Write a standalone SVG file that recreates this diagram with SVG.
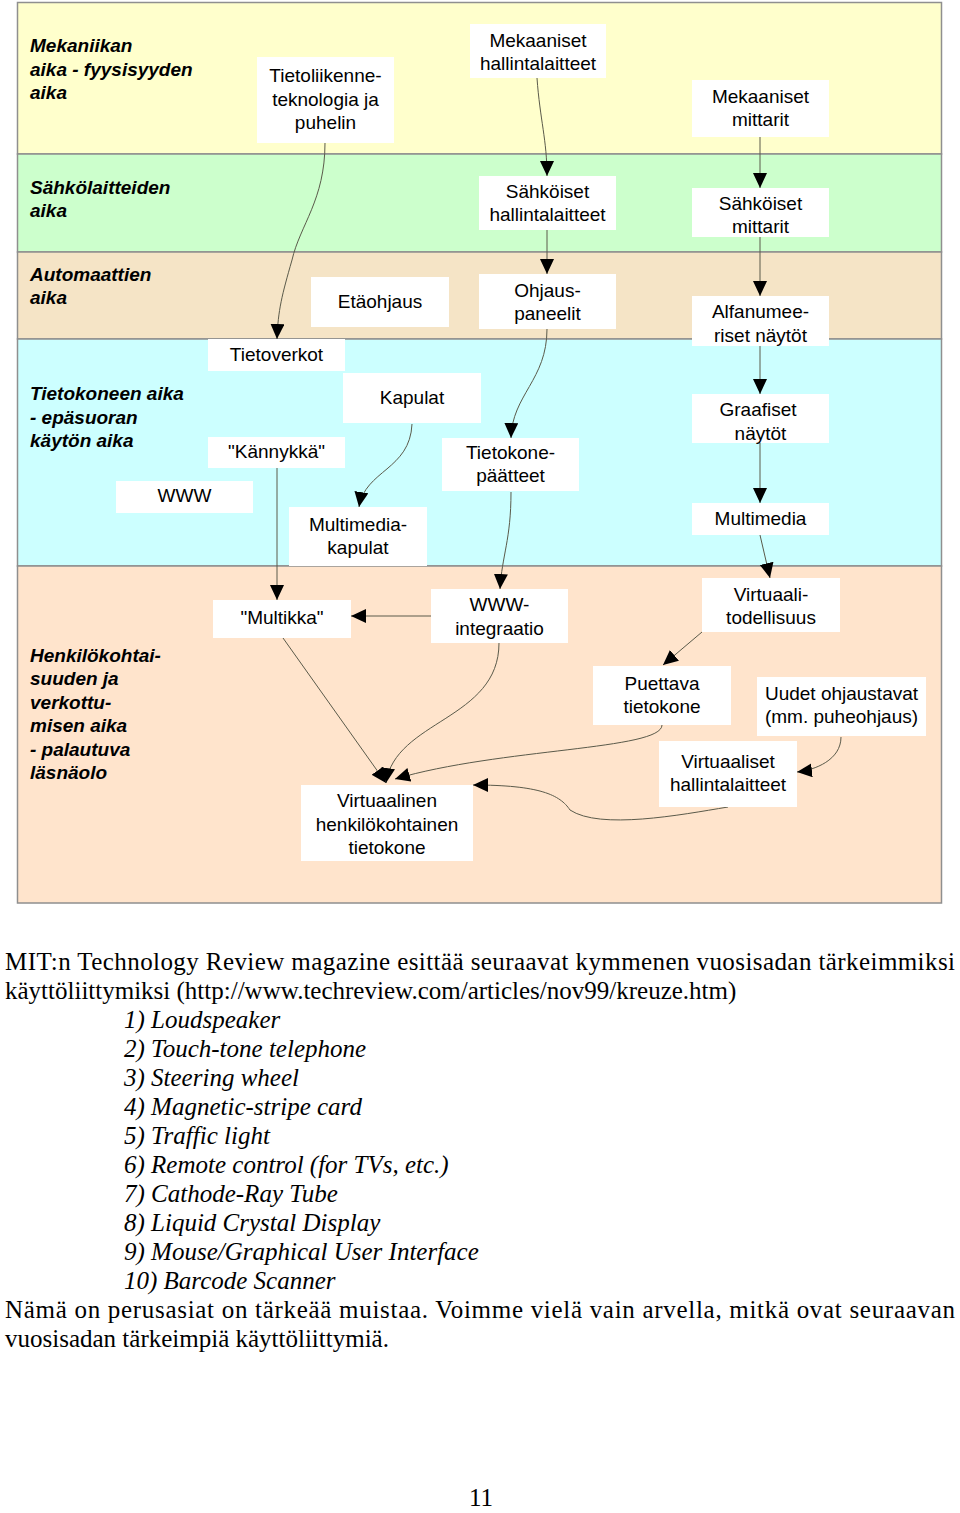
<svg xmlns="http://www.w3.org/2000/svg" width="960" height="1513" viewBox="0 0 960 1513">
<style>
.band{stroke:#8f8f8f;stroke-width:1.5}
.blabel{font-family:"Liberation Sans",Arial,sans-serif;font-size:19px;font-weight:bold;font-style:italic;fill:#000}
.box{fill:#fff}
.nt{font-family:"Liberation Sans",Arial,sans-serif;font-size:19px;fill:#000;text-anchor:middle}
.c{fill:none;stroke:#5a5a4a;stroke-width:1;marker-end:url(#ah)}
.body{font-family:"Liberation Serif","Times New Roman",serif;font-size:25px;fill:#000}
.it{font-style:italic}
</style>
<defs>
<marker id="ah" markerUnits="userSpaceOnUse" markerWidth="16" markerHeight="15" refX="15" refY="7" orient="auto">
<path d="M0,0 L15,7 L0,14 z" fill="#000"/>
</marker>
</defs>
<rect width="960" height="1513" fill="#fff"/>
<g id="bands">
<rect class="band" x="17.5" y="2.5" width="924" height="151.5" fill="#FFFFCC"/>
<rect class="band" x="17.5" y="154" width="924" height="98" fill="#CCFFCC"/>
<rect class="band" x="17.5" y="252" width="924" height="87" fill="#F5E4C6"/>
<rect class="band" x="17.5" y="339" width="924" height="227" fill="#CCFFFF"/>
<rect class="band" x="17.5" y="566" width="924" height="337" fill="#FFE4CC"/>
<text class="blabel" x="30" y="52">Mekaniikan</text>
<text class="blabel" x="30" y="76">aika - fyysisyyden</text>
<text class="blabel" x="30" y="99">aika</text>
<text class="blabel" x="30" y="194">Sähkölaitteiden</text>
<text class="blabel" x="30" y="217">aika</text>
<text class="blabel" x="30" y="281">Automaattien</text>
<text class="blabel" x="30" y="304">aika</text>
<text class="blabel" x="30" y="400">Tietokoneen aika</text>
<text class="blabel" x="30" y="424">- epäsuoran</text>
<text class="blabel" x="30" y="447">käytön aika</text>
<text class="blabel" x="30" y="662">Henkilökohtai-</text>
<text class="blabel" x="30" y="685">suuden ja</text>
<text class="blabel" x="30" y="709">verkottu-</text>
<text class="blabel" x="30" y="732">misen aika</text>
<text class="blabel" x="30" y="756">- palautuva</text>
<text class="blabel" x="30" y="779">läsnäolo</text>
</g>
<g id="connectors">
<path class="c" d="M325,143 C325,200 300,225 292,260 C282,295 278,310 277,339"/>
<path class="c" d="M537,78 C540,120 547,140 547,176"/>
<path class="c" d="M760,137 L760,188"/>
<path class="c" d="M547,230 L547,274"/>
<path class="c" d="M760,237 L760,296"/>
<path class="c" d="M547,329 C547,380 512,395 511,438"/>
<path class="c" d="M760,346 L760,394"/>
<path class="c" d="M760,443 L760,503"/>
<path class="c" d="M412,424 C410,470 365,470 359,507"/>
<path class="c" d="M277,468 L277,600"/>
<path class="c" d="M760,535 L770,578"/>
<path class="c" d="M511,492 C511,540 502,555 500,589"/>
<path class="c" d="M431,616 L351,616"/>
<path class="c" d="M702,632 L663,665"/>
<path class="c" d="M283,638 L386,783"/>
<path class="c" d="M499,643 C499,720 395,720 386,783"/>
<path class="c" d="M662,725 C662,750 500,748 395,779"/>
<path class="c" d="M841,737 C841,760 815,770 797,772"/>
<path class="c" d="M728,807 C680,815 600,830 570,810 C560,795 540,785 473,785"/>
</g>
<g id="n-tietoliikenne"><rect class="box" x="257" y="57" width="137" height="86"/><text class="nt" x="325.5" y="82">Tietoliikenne-</text><text class="nt" x="325.5" y="106">teknologia ja</text><text class="nt" x="325.5" y="129">puhelin</text></g>
<g id="n-mek-hallinta"><rect class="box" x="470" y="24" width="136" height="54"/><text class="nt" x="538" y="47">Mekaaniset</text><text class="nt" x="538" y="70">hallintalaitteet</text></g>
<g id="n-mek-mittarit"><rect class="box" x="692" y="80" width="137" height="57"/><text class="nt" x="760.5" y="103">Mekaaniset</text><text class="nt" x="760.5" y="126">mittarit</text></g>
<g id="n-sahk-hallinta"><rect class="box" x="479" y="176" width="137" height="54"/><text class="nt" x="547.5" y="198">Sähköiset</text><text class="nt" x="547.5" y="221">hallintalaitteet</text></g>
<g id="n-sahk-mittarit"><rect class="box" x="692" y="188" width="137" height="49"/><text class="nt" x="760.5" y="210">Sähköiset</text><text class="nt" x="760.5" y="233">mittarit</text></g>
<g id="n-etaohjaus"><rect class="box" x="311" y="277" width="138" height="50"/><text class="nt" x="380" y="308">Etäohjaus</text></g>
<g id="n-ohjauspaneelit"><rect class="box" x="479" y="274" width="137" height="55"/><text class="nt" x="547.5" y="297">Ohjaus-</text><text class="nt" x="547.5" y="320">paneelit</text></g>
<g id="n-alfanum"><rect class="box" x="692" y="296" width="137" height="50"/><text class="nt" x="760.5" y="318">Alfanumee-</text><text class="nt" x="760.5" y="342">riset näytöt</text></g>
<g id="n-tietoverkot"><rect class="box" x="208" y="339" width="137" height="32"/><text class="nt" x="276.5" y="361">Tietoverkot</text></g>
<g id="n-kapulat"><rect class="box" x="343" y="373" width="138" height="50"/><text class="nt" x="412" y="404">Kapulat</text></g>
<g id="n-kannykka"><rect class="box" x="208" y="437" width="137" height="31"/><text class="nt" x="276.5" y="458">"Kännykkä"</text></g>
<g id="n-www"><rect class="box" x="116" y="481" width="137" height="32"/><text class="nt" x="184.5" y="502">WWW</text></g>
<g id="n-multimedia-kapulat"><rect class="box" x="289" y="507" width="138" height="59"/><text class="nt" x="358" y="531">Multimedia-</text><text class="nt" x="358" y="554">kapulat</text></g>
<g id="n-tietokonepaatteet"><rect class="box" x="442" y="438" width="137" height="53"/><text class="nt" x="510.5" y="459">Tietokone-</text><text class="nt" x="510.5" y="482">päätteet</text></g>
<g id="n-graafiset"><rect class="box" x="692" y="394" width="137" height="49"/><text class="nt" x="758" y="416">Graafiset</text><text class="nt" x="760.5" y="440">näytöt</text></g>
<g id="n-multimedia"><rect class="box" x="692" y="503" width="137" height="32"/><text class="nt" x="760.5" y="525">Multimedia</text></g>
<g id="n-multikka"><rect class="box" x="213" y="600" width="138" height="38"/><text class="nt" x="282" y="624">"Multikka"</text></g>
<g id="n-www-integraatio"><rect class="box" x="431" y="589" width="137" height="54"/><text class="nt" x="499.5" y="611">WWW-</text><text class="nt" x="499.5" y="635">integraatio</text></g>
<g id="n-virtuaalitodellisuus"><rect class="box" x="702" y="578" width="138" height="54"/><text class="nt" x="771" y="601">Virtuaali-</text><text class="nt" x="771" y="624">todellisuus</text></g>
<g id="n-puettava"><rect class="box" x="593" y="666" width="138" height="59"/><text class="nt" x="662" y="690">Puettava</text><text class="nt" x="662" y="713">tietokone</text></g>
<g id="n-uudet"><rect class="box" x="757" y="677" width="169" height="59"/><text class="nt" x="841.5" y="700">Uudet ohjaustavat</text><text class="nt" x="841.5" y="723">(mm. puheohjaus)</text></g>
<g id="n-virtuaaliset"><rect class="box" x="659" y="741" width="138" height="66"/><text class="nt" x="728" y="768">Virtuaaliset</text><text class="nt" x="728" y="791">hallintalaitteet</text></g>
<g id="n-virtuaalinen"><rect class="box" x="301" y="785" width="172" height="76"/><text class="nt" x="387" y="807">Virtuaalinen</text><text class="nt" x="387" y="831">henkilökohtainen</text><text class="nt" x="387" y="854">tietokone</text></g>
<g id="body-text">
<text class="body" x="5" y="970" textLength="950" lengthAdjust="spacing">MIT:n Technology Review magazine esittää seuraavat kymmenen vuosisadan tärkeimmiksi</text>
<text class="body" x="5" y="999">käyttöliittymiksi (http://www.techreview.com/articles/nov99/kreuze.htm)</text>
<text class="body it" x="124" y="1028">1) Loudspeaker</text>
<text class="body it" x="124" y="1057">2) Touch-tone telephone</text>
<text class="body it" x="124" y="1086">3) Steering wheel</text>
<text class="body it" x="124" y="1115">4) Magnetic-stripe card</text>
<text class="body it" x="124" y="1144">5) Traffic light</text>
<text class="body it" x="124" y="1173">6) Remote control (for TVs, etc.)</text>
<text class="body it" x="124" y="1202">7) Cathode-Ray Tube</text>
<text class="body it" x="124" y="1231">8) Liquid Crystal Display</text>
<text class="body it" x="124" y="1260">9) Mouse/Graphical User Interface</text>
<text class="body it" x="124" y="1289">10) Barcode Scanner</text>
<text class="body" x="5" y="1318" textLength="950" lengthAdjust="spacing">Nämä on perusasiat on tärkeää muistaa. Voimme vielä vain arvella, mitkä ovat seuraavan</text>
<text class="body" x="5" y="1347">vuosisadan tärkeimpiä käyttöliittymiä.</text>
<text class="body" x="481" y="1506" text-anchor="middle">11</text>
</g>
</svg>
